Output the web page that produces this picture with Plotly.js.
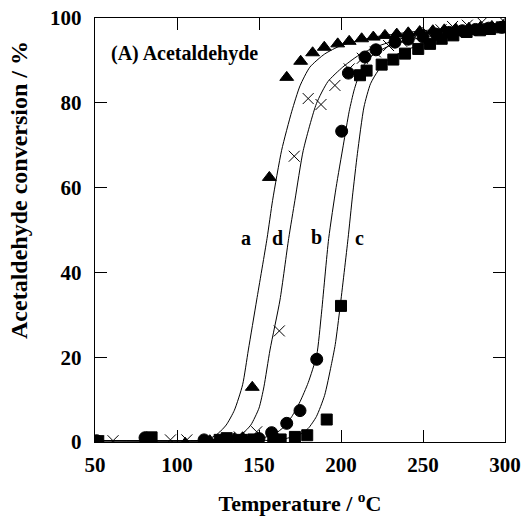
<!DOCTYPE html>
<html>
<head>
<meta charset="utf-8">
<script src="https://cdn.plot.ly/plotly-3.0.1.min.js"></script>
<style>html,body{margin:0;padding:0;background:#fff;}#chart{width:524px;height:520px;}</style>
</head>
<body>
<div id="chart"></div>
<script>
// Measured points (Temperature in °C, conversion in %)
const aTemp = [52, 81, 105, 120, 125, 130, 135, 140, 145.9, 156.3, 166.9, 175.4, 182.7, 189.8, 198, 205, 212.6, 219.7, 226.8, 234, 241, 248, 256, 263, 270, 278, 285, 292, 299];
const aConv = [0.2, 0.5, -0.3, 0.3, 0.2, 0.5, 0.8, 1, 12.9, 62.4, 86, 89.8, 91.8, 93.1, 93.9, 94.5, 95.1, 95.5, 95.9, 96.2, 96.5, 96.8, 97, 97.2, 97.4, 97.6, 97.8, 98, 98.2];

const bTemp = [51, 80.5, 116.5, 140, 150, 157.7, 166.9, 175, 185.2, 200.4, 204.5, 214.6, 221.3, 232.9, 241, 250, 258, 266, 274, 282, 290, 298];
const bConv = [0.3, 1, 0.5, 0.5, 0.8, 2.2, 4.4, 7.4, 19.5, 73.3, 87, 90.8, 92.5, 94.3, 95, 95.6, 96.2, 96.6, 97, 97.3, 97.6, 97.8];

const cTemp = [52, 84.5, 126, 130.3, 139.4, 146.5, 158.7, 163.2, 171.9, 179.4, 191.3, 200, 211.6, 215.6, 224.8, 231.9, 239, 247.1, 254.3, 261.4, 268.5, 276.6, 284.8, 290.9, 298];
const cConv = [0.2, 1.1, 0.5, 0.9, 0.5, 0.6, 0.6, 0.6, 1.2, 1.6, 5.3, 32.1, 86.5, 87.6, 89, 90.2, 91.6, 92.7, 93.9, 95.1, 95.9, 96.7, 97.1, 97.4, 97.8];

const dTemp = [52, 61, 96, 106, 138, 148.6, 162.4, 171.5, 180, 187.8, 196.3, 205, 213, 221, 229, 237, 245, 253, 261, 268, 277, 286, 298.8];
const dConv = [0.2, 0.3, 0.5, 0.5, 1.2, 2.4, 26.2, 67.4, 81, 79.6, 84.1, 88, 90.5, 92, 93.5, 94.5, 95.5, 96.5, 97.2, 98, 98.3, 99, 99.4];

// Fitted curves
const fitATemp = [50, 100, 115, 120, 125, 130, 135, 140, 143.5, 148.6, 154.9, 158.3, 163.8, 170, 175, 181, 190, 200, 220, 250, 300];
const fitAConv = [0.3, 0.3, 0.4, 0.8, 2, 4, 7.5, 13.5, 21.7, 33.5, 48, 57, 68.8, 78, 84, 88.4, 91.5, 93.5, 95.5, 97, 98.5];

const fitDTemp = [50, 120, 130, 135, 140, 145, 150, 153, 156.7, 162.8, 168.1, 171.9, 177, 185, 192, 201, 210, 220, 240, 270, 300];
const fitDConv = [0.3, 0.3, 0.5, 1, 2, 4, 8, 13, 21.7, 33.5, 48, 57, 68.8, 79.8, 85, 88.4, 91, 93, 95.5, 97.5, 98.8];

const fitBTemp = [50, 140, 150, 160, 165, 170, 175, 180, 185.2, 188, 192.5, 197, 201.4, 205, 208, 211.6, 215, 220, 230, 250, 300];
const fitBConv = [0.3, 0.3, 0.7, 2, 3.5, 6, 9.5, 14, 20.5, 30, 48, 60, 70, 78, 83, 87.2, 89.5, 91.5, 93.5, 95.5, 98];

const fitCTemp = [50, 150, 165, 175, 180, 185, 190, 194, 196.5, 199.5, 204.3, 207, 210, 214, 218, 222.7, 230, 240, 260, 300];
const fitCConv = [0.3, 0.3, 0.7, 1.8, 3.2, 6, 11, 18, 23, 32, 48, 58, 68, 79, 84.5, 87.6, 90.5, 92.5, 95, 97.8];

const xTicks = [50, 100, 150, 200, 250, 300];
const yTicks = [0, 20, 40, 60, 80, 100];

const curveLabels = ['a', 'd', 'b', 'c'];
const curveLabelX = [141.9, 161.2, 185.2, 211];
const curveLabelY = [48, 48, 48.3, 48.2];

const FONT = 'Liberation Serif, Times New Roman, serif';
const B = s => '<b>' + s + '</b>';

function fit(x, y) {
  return {x: x, y: y, type: 'scatter', mode: 'lines', line: {color: 'black', width: 1, shape: 'spline', smoothing: 0.6}, hoverinfo: 'skip', showlegend: false};
}
function pts(x, y, sym, size) {
  return {x: x, y: y, type: 'scatter', mode: 'markers', showlegend: false,
    marker: {symbol: sym, size: size, color: 'black', line: {color: 'black', width: 1}}};
}

const data = [
  fit(fitATemp, fitAConv), fit(fitDTemp, fitDConv), fit(fitBTemp, fitBConv), fit(fitCTemp, fitCConv),
  pts(aTemp, aConv, 'triangle-up', 12),
  pts(bTemp, bConv, 'circle', 12),
  pts(cTemp, cConv, 'square', 11),
  pts(dTemp, dConv, 'x-thin-open', 11)
];

const W = 524, H = 520, ML = 95, MR = 19, MT = 18, MB = 78;
const pw = W - ML - MR, ph = H - MT - MB;

const annotations = curveLabels.map((t, i) => ({
  x: curveLabelX[i], y: curveLabelY[i], xref: 'x', yref: 'y', text: B(t), showarrow: false,
  font: {family: FONT, size: 20, color: 'black'}
}));
annotations.push({
  x: 0.033, y: 0.917, xref: 'paper', yref: 'paper', xanchor: 'left', yanchor: 'middle',
  text: B('(A) Acetaldehyde'), showarrow: false,
  font: {family: FONT, size: 20, color: 'black'}
});
// y-axis title, placed as in the reference (above the axis centre)
annotations.push({
  x: (19 - ML) / pw, y: (H - MB - 190) / ph, xref: 'paper', yref: 'paper',
  xanchor: 'center', yanchor: 'middle', showarrow: false, textangle: -90,
  text: B('Acetaldehyde conversion / %'),
  font: {family: FONT, size: 24, color: 'black'}
});

const axisCommon = {
  showline: true, linecolor: 'black', linewidth: 1.2, mirror: 'ticks',
  ticks: 'inside', ticklen: 12, tickwidth: 1, tickcolor: 'black',
  showgrid: false, zeroline: false,
  tickfont: {family: FONT, size: 21, color: 'black', weight: 'bold'}
};

const layout = {
  width: W, height: H,
  margin: {l: ML, r: MR, t: MT, b: MB},
  paper_bgcolor: 'white', plot_bgcolor: 'white',
  font: {family: FONT, color: 'black'},
  xaxis: Object.assign({}, axisCommon, {
    range: [50, 300], tickvals: xTicks, ticktext: xTicks.map(v => B(v)), ticklabelstandoff: 4,
    title: {text: B('Temperature / <sup>o</sup>C'), standoff: 19, font: {family: FONT, size: 22, color: 'black'}}
  }),
  yaxis: Object.assign({}, axisCommon, {
    range: [0, 100], tickvals: yTicks, ticktext: yTicks.map(v => B(v)), ticklabelstandoff: 8
  }),
  annotations: annotations
};

Plotly.newPlot('chart', data, layout, {displayModeBar: false, staticPlot: true});
</script>
</body>
</html>
